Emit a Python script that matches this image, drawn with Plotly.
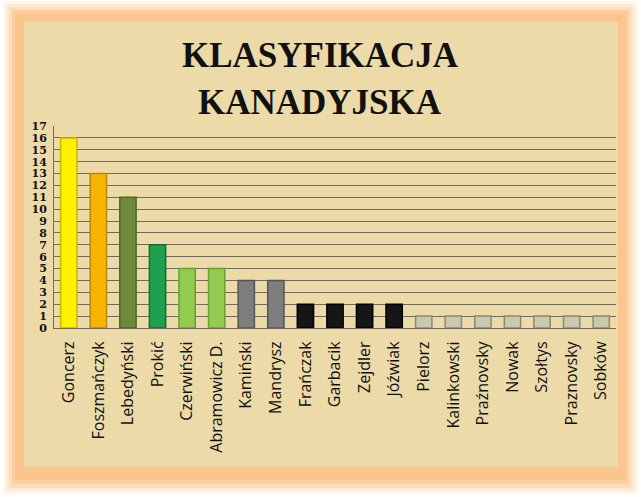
import plotly.graph_objects as go

names = ["Goncerz", "Foszmańczyk", "Lebedyński", "Prokić", "Czerwiński", "Abramowicz D.",
         "Kamiński", "Mandrysz", "Frańczak", "Garbacik", "Zejdler", "Jóźwiak", "Pielorz",
         "Kalinkowski", "Praźnovsky", "Nowak", "Szołtys", "Praznovsky", "Sobków"]
points = [16, 13, 11, 7, 5, 5, 4, 4, 2, 2, 2, 2, 1, 1, 1, 1, 1, 1, 1]
fill_colors = ["#FFF000", "#F7B400", "#6C8A3A", "#1EA04E", "#92CD52", "#92CD52",
               "#7E7E7E", "#7E7E7E", "#161616", "#161616", "#161616", "#161616",
               "#CBC8B0", "#CBC8B0", "#CBC8B0", "#CBC8B0", "#CBC8B0", "#CBC8B0", "#CBC8B0"]
edge_colors = ["#C9B800", "#C08600", "#4C6626", "#0D7032", "#68A032", "#68A032",
               "#555555", "#555555", "#000000", "#000000", "#000000", "#000000",
               "#8C8A74", "#8C8A74", "#8C8A74", "#8C8A74", "#8C8A74", "#8C8A74", "#8C8A74"]
y_ticks = list(range(0, 18))

W, H = 641, 497
L, R, T, B = 54, 25, 126, 169
pw, ph = W - L - R, H - T - B


def px_x(x):
    return (x - L) / pw


def px_y(y):
    return (H - B - y) / ph


fig = go.Figure()
fig.add_trace(go.Bar(
    x=names, y=points,
    marker=dict(color=fill_colors, line=dict(color=edge_colors, width=1.5)),
    width=0.55,
))

shapes = []
# orange glow frame
glow = [(3, 1, 638, 494, "#FFF6EC"), (6, 4, 635, 491, "#FEEBD6"),
        (9, 7, 632, 488, "#FDDDBB"), (12, 10, 629, 484, "#FCCF9F"),
        (15, 13, 626, 480, "#FBC58E")]
for x0, y0, x1, y1, c in glow:
    shapes.append(dict(type="rect", xref="paper", yref="paper", layer="below",
                       x0=px_x(x0), x1=px_x(x1), y0=px_y(y1), y1=px_y(y0),
                       fillcolor=c, line=dict(width=0)))
# parchment
shapes.append(dict(type="rect", xref="paper", yref="paper", layer="below",
                   x0=px_x(24), x1=px_x(618), y0=px_y(467), y1=px_y(22),
                   fillcolor="#ECDAA8", line=dict(width=0)))

title_font = dict(family="Liberation Serif", size=35, color="#111111")
fig.update_layout(
    width=W, height=H,
    margin=dict(l=L, r=R, t=T, b=B),
    paper_bgcolor="white",
    plot_bgcolor="rgba(0,0,0,0)",
    shapes=shapes,
    showlegend=False,
    bargap=0.45,
    annotations=[
        dict(text="<b>KLASYFIKACJA</b>", xref="paper", yref="paper",
             x=px_x(320), y=px_y(56), showarrow=False, xanchor="center", yanchor="middle",
             font=title_font),
        dict(text="<b>KANADYJSKA</b>", xref="paper", yref="paper",
             x=px_x(320), y=px_y(103), showarrow=False, xanchor="center", yanchor="middle",
             font=title_font),
    ],
)
fig.update_yaxes(
    range=[0, 17], tickvals=y_ticks, ticktext=["<b>%d</b>" % v for v in y_ticks],
    showgrid=True, gridcolor="#746A5A", gridwidth=1,
    showline=True, linecolor="#746A5A", linewidth=1,
    tickfont=dict(family="DejaVu Serif", size=11, color="#111111"),
    ticks="", ticklabelstandoff=4, zeroline=False,
)
fig.update_xaxes(
    tickangle=-90, showline=True, linecolor="#746A5A", linewidth=1,
    tickfont=dict(family="Open Sans", size=16, color="#111111"),
    ticks="", ticklabelstandoff=6,
)
fig.write_html("out.html")
